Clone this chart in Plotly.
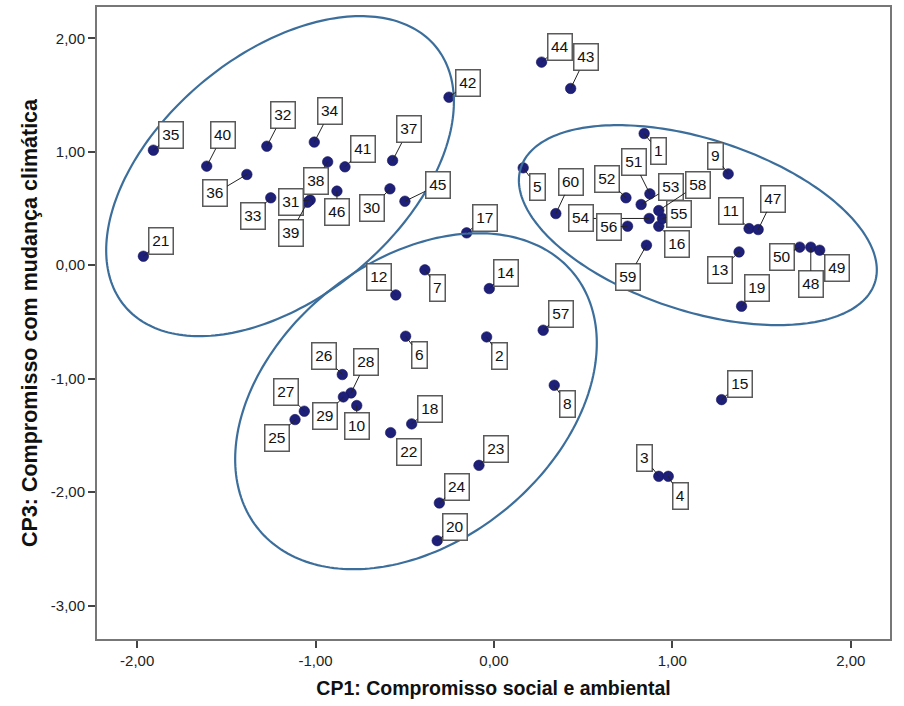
import numpy as np
import plotly.graph_objects as go

# Case numbers and component scores (CP1 vs CP3)
case_ids = list(range(1, 61))
cp1 = [0.842, -0.041, 0.924, 0.977, 0.164, -0.495, -0.387, 0.338, 1.313, -0.769,
       1.430, -0.550, 1.374, -0.026, 1.276, 0.924, -0.153, -0.461, 1.388, -0.318,
       -1.965, -0.579, -0.084, -0.306, -1.115, -0.850, -1.063, -0.801, -0.844, -0.583,
       -1.030, -1.273, -1.251, -1.007, -1.909, -1.385, -0.568, -0.932, -1.045, -1.610,
       -0.835, -0.252, 0.430, 0.267, -0.499, -0.880, 1.481, 1.776, 1.826, 1.714,
       0.874, 0.740, 0.825, 0.870, 0.945, 0.749, 0.276, 0.924, 0.855, 0.347]
cp3 = [1.161, -0.632, -1.861, -1.861, 0.858, -0.626, -0.041, -1.058, 0.805, -1.237,
       0.323, -0.262, 0.117, -0.206, -1.185, 0.344, 0.285, -1.399, -0.362, -2.428,
       0.079, -1.476, -1.764, -2.096, -1.361, -0.964, -1.287, -1.126, -1.161, 0.673,
       0.575, 1.049, 0.594, 1.085, 1.014, 0.800, 0.923, 0.911, 0.555, 0.873,
       0.867, 1.481, 1.558, 1.790, 0.564, 0.653, 0.314, 0.159, 0.132, 0.159,
       0.629, 0.594, 0.535, 0.412, 0.412, 0.344, -0.573, 0.482, 0.176, 0.455]

x_ticks = [-2, -1, 0, 1, 2]
x_tick_labels = ["-2,00", "-1,00", "0,00", "1,00", "2,00"]
y_ticks = [2, 1, 0, -1, -2, -3]
y_tick_labels = ["2,00", "1,00", "0,00", "-1,00", "-2,00", "-3,00"]

# Label box placement (pixel offset of the box from its point)
label_offsets = {
    1: (14, 18), 2: (13, 19), 3: (-14, -18), 4: (12, 20), 5: (14, 19),
    6: (14, 19), 7: (13, 18), 8: (13, 19), 9: (-13, -18), 10: (0, 20),
    11: (-18, -18), 12: (-17, -18), 13: (-19, 18), 14: (17, -16), 15: (18, -16),
    16: (18, 18), 17: (18, -15), 18: (18, -15), 19: (15, -18), 20: (18, -14),
    21: (18, -15), 22: (18, 19), 23: (17, -16), 24: (18, -16), 25: (-18, 18),
    26: (-18, -19), 27: (-18, -19), 28: (15, -31), 29: (-18, 19), 30: (-18, 19),
    31: (-19, 2), 32: (16, -31), 33: (-18, 18), 34: (16, -31), 35: (18, -15),
    36: (-32, 19), 37: (16, -31), 38: (-12, 19), 39: (-17, 31), 40: (16, -31),
    41: (18, -18), 42: (19, -14), 43: (15, -31), 44: (18, -15), 45: (33, -16),
    46: (0, 21), 47: (15, -31), 48: (0, 37), 49: (17, 18), 50: (-18, 10),
    51: (-16, -32), 52: (-19, -19), 53: (30, -18), 54: (-68, 0), 55: (16, -4),
    56: (-19, 1), 57: (18, -16), 58: (39, -26), 59: (-18, 32), 60: (15, -32),
}

# Group outlines: centre and two conjugate half-axis vectors (data units)
outlines = [
    ((-1.199, 0.785), (0.871, 1.145), (-0.437, 0.824)),
    ((1.143, 0.353), (0.992, -0.507), (0.149, 0.721)),
    ((-0.437, -1.199), (0.885, 1.124), (-0.494, 0.964)),
]

fig = go.Figure()

shapes = []
t = np.linspace(0, 2 * np.pi, 240)
for (cx, cy), (ux, uy), (vx, vy) in outlines:
    ex = cx + ux * np.cos(t) + vx * np.sin(t)
    ey = cy + uy * np.cos(t) + vy * np.sin(t)
    path = "M " + " L ".join(f"{a:.4f},{b:.4f}" for a, b in zip(ex, ey)) + " Z"
    shapes.append(dict(type="path", path=path, xref="x", yref="y",
                       line=dict(color="#3c6e9c", width=2.2), layer="above"))

fig.add_trace(go.Scatter(
    x=cp1, y=cp3, mode="markers",
    marker=dict(size=10.5, color="#1e1f78", line=dict(width=0.6, color="#15155a")),
    hoverinfo="skip", showlegend=False,
))

annotations = []
for cid, xv, yv in zip(case_ids, cp1, cp3):
    dx, dy = label_offsets[cid]
    txt = str(cid)
    annotations.append(dict(
        x=xv, y=yv, xref="x", yref="y", text=txt,
        showarrow=True, arrowhead=0, arrowwidth=1, arrowcolor="#222222",
        ax=dx, ay=dy, standoff=0,
        font=dict(family="Liberation Sans, Arial, sans-serif", size=15.5, color="#111111"),
        bgcolor="white", bordercolor="#5a5a5a", borderwidth=1.5, borderpad=0,
        width=22.5 if len(txt) > 1 else 13.5, height=24.5,
    ))

axis_font = dict(family="Liberation Sans, Arial, sans-serif", size=15, color="#222222")
x_title_font = dict(family="Liberation Sans, Arial, sans-serif", size=19.5, color="#111111")
y_title_font = dict(family="Liberation Sans, Arial, sans-serif", size=21.5, color="#111111")

fig.update_layout(
    width=904, height=706,
    margin=dict(l=97, r=14, t=5, b=67),
    paper_bgcolor="white", plot_bgcolor="white",
    shapes=shapes, annotations=annotations,
    xaxis=dict(
        range=[-2.225, 2.22], tickvals=x_ticks, ticktext=x_tick_labels,
        showgrid=False, zeroline=False,
        showline=True, linecolor="#777777", linewidth=2, mirror=True,
        ticks="outside", ticklen=7, tickwidth=1.5, tickcolor="#444444",
        tickfont=axis_font,
        title=dict(text="<b>CP1: Compromisso social e ambiental</b>", font=x_title_font, standoff=13),
    ),
    yaxis=dict(
        range=[-3.295, 2.276], tickvals=y_ticks, ticktext=y_tick_labels,
        showgrid=False, zeroline=False,
        showline=True, linecolor="#777777", linewidth=2, mirror=True,
        ticks="outside", ticklen=7, tickwidth=1.5, tickcolor="#444444",
        tickfont=axis_font,
        title=dict(text="<b>CP3: Compromisso com mudança climática</b>", font=y_title_font, standoff=7),
    ),
)

fig.write_html("out.html")
